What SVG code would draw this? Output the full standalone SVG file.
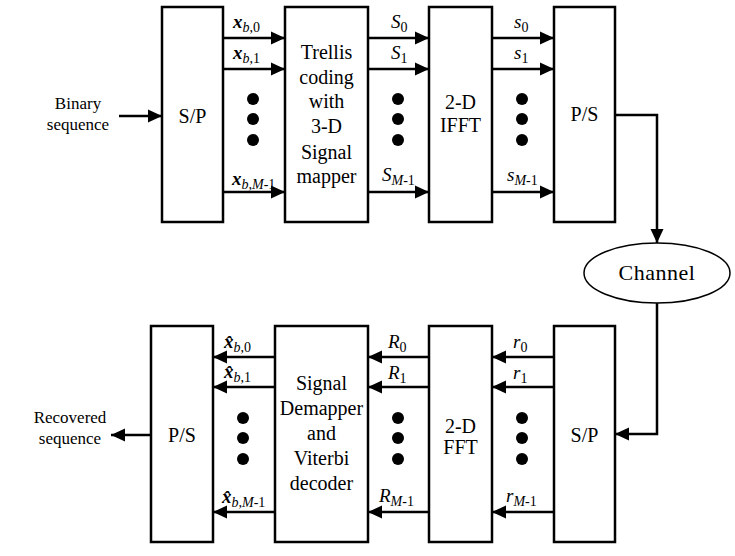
<svg xmlns="http://www.w3.org/2000/svg" width="735" height="556" viewBox="0 0 735 556">
<style>
.box{fill:#fff;stroke:#000;stroke-width:2.5}
.ln{fill:none;stroke:#000;stroke-width:2.5}
text{font-family:"Liberation Serif","DejaVu Serif",serif}
.t{font-size:20px;fill:#000;text-anchor:middle}
.s{font-size:17px;fill:#000;text-anchor:middle}
.lb{font-size:19px;fill:#000}
.sub{font-size:14px;font-style:italic}
.sn{font-size:14px;font-style:normal;font-weight:normal}
.bx{font-weight:bold;font-style:italic}
.it{font-style:italic}
.dot{fill:#000}
</style>
<defs>
<marker id="ah" markerUnits="userSpaceOnUse" markerWidth="14" markerHeight="14" viewBox="0 0 14 14" refX="14" refY="7" orient="auto">
<path d="M0,0.5 L14,7 L0,13.5 Z" fill="#000"/>
</marker>
</defs>
<rect width="735" height="556" fill="#fff"/>

<g id="connectors">
<line class="ln" x1="119" y1="116" x2="162" y2="116" marker-end="url(#ah)"/>
<line class="ln" x1="223" y1="38" x2="285" y2="38" marker-end="url(#ah)"/>
<line class="ln" x1="223" y1="69" x2="285" y2="69" marker-end="url(#ah)"/>
<line class="ln" x1="223" y1="192" x2="285" y2="192" marker-end="url(#ah)"/>
<line class="ln" x1="368" y1="38" x2="429" y2="38" marker-end="url(#ah)"/>
<line class="ln" x1="368" y1="69" x2="429" y2="69" marker-end="url(#ah)"/>
<line class="ln" x1="368" y1="192" x2="429" y2="192" marker-end="url(#ah)"/>
<line class="ln" x1="492" y1="38" x2="554" y2="38" marker-end="url(#ah)"/>
<line class="ln" x1="492" y1="69" x2="554" y2="69" marker-end="url(#ah)"/>
<line class="ln" x1="492" y1="192" x2="554" y2="192" marker-end="url(#ah)"/>
<polyline class="ln" points="615,115 657,115 657,243" marker-end="url(#ah)"/>
<polyline class="ln" points="657,303 657,434 615,434" marker-end="url(#ah)"/>
<line class="ln" x1="554" y1="357" x2="492" y2="357" marker-end="url(#ah)"/>
<line class="ln" x1="554" y1="387" x2="492" y2="387" marker-end="url(#ah)"/>
<line class="ln" x1="554" y1="512" x2="492" y2="512" marker-end="url(#ah)"/>
<line class="ln" x1="429" y1="357" x2="368" y2="357" marker-end="url(#ah)"/>
<line class="ln" x1="429" y1="387" x2="368" y2="387" marker-end="url(#ah)"/>
<line class="ln" x1="429" y1="512" x2="368" y2="512" marker-end="url(#ah)"/>
<line class="ln" x1="275" y1="357" x2="213" y2="357" marker-end="url(#ah)"/>
<line class="ln" x1="275" y1="387" x2="213" y2="387" marker-end="url(#ah)"/>
<line class="ln" x1="275" y1="512" x2="213" y2="512" marker-end="url(#ah)"/>
<line class="ln" x1="151" y1="435" x2="111" y2="435" marker-end="url(#ah)"/>
</g>

<g id="input-label">
<text class="s" x="78" y="109">Binary</text>
<text class="s" x="78" y="130">sequence</text>
</g>

<g id="sp-top">
<rect class="box" x="162" y="7" width="61" height="215"/>
<text class="t" x="192.5" y="123">S/P</text>
</g>

<g id="trellis">
<rect class="box" x="285" y="7" width="83" height="215"/>
<text class="t" x="326.5" y="59">Trellis</text>
<text class="t" x="326.5" y="84">coding</text>
<text class="t" x="326.5" y="108">with</text>
<text class="t" x="326.5" y="133">3-D</text>
<text class="t" x="326.5" y="159">Signal</text>
<text class="t" x="326.5" y="183">mapper</text>
</g>

<g id="ifft">
<rect class="box" x="429" y="7" width="63" height="215"/>
<text class="t" x="460.5" y="109">2-D</text>
<text class="t" x="460.5" y="132">IFFT</text>
</g>

<g id="ps-top">
<rect class="box" x="554" y="7" width="61" height="215"/>
<text class="t" x="584.5" y="121">P/S</text>
</g>

<g id="channel">
<ellipse cx="657" cy="273" rx="73" ry="30" fill="#fff" stroke="#000" stroke-width="1.5"/>
<text class="t" x="657" y="280" style="font-size:22px;letter-spacing:0.5px">Channel</text>
</g>

<g id="sp-bottom">
<rect class="box" x="554" y="326" width="61" height="216"/>
<text class="t" x="584.5" y="442">S/P</text>
</g>

<g id="fft">
<rect class="box" x="429" y="326" width="63" height="216"/>
<text class="t" x="460.5" y="433">2-D</text>
<text class="t" x="460.5" y="454">FFT</text>
</g>

<g id="demapper">
<rect class="box" x="275" y="326" width="93" height="216"/>
<text class="t" x="321.5" y="390">Signal</text>
<text class="t" x="321.5" y="415">Demapper</text>
<text class="t" x="321.5" y="440">and</text>
<text class="t" x="321.5" y="465">Viterbi</text>
<text class="t" x="321.5" y="490">decoder</text>
</g>

<g id="ps-bottom">
<rect class="box" x="151" y="326" width="62" height="216"/>
<text class="t" x="182" y="442">P/S</text>
</g>

<g id="output-label">
<text class="s" x="70" y="423">Recovered</text>
<text class="s" x="70" y="444">sequence</text>
</g>

<g id="dots">
<circle class="dot" cx="253" cy="99" r="6"/><circle class="dot" cx="253" cy="119" r="6"/><circle class="dot" cx="253" cy="140" r="6"/>
<circle class="dot" cx="398" cy="99" r="6"/><circle class="dot" cx="398" cy="119" r="6"/><circle class="dot" cx="398" cy="140" r="6"/>
<circle class="dot" cx="522" cy="99" r="6"/><circle class="dot" cx="522" cy="119" r="6"/><circle class="dot" cx="522" cy="140" r="6"/>
<circle class="dot" cx="243" cy="418" r="6"/><circle class="dot" cx="243" cy="438" r="6"/><circle class="dot" cx="243" cy="459" r="6"/>
<circle class="dot" cx="398" cy="418" r="6"/><circle class="dot" cx="398" cy="438" r="6"/><circle class="dot" cx="398" cy="459" r="6"/>
<circle class="dot" cx="522" cy="418" r="6"/><circle class="dot" cx="522" cy="438" r="6"/><circle class="dot" cx="522" cy="459" r="6"/>
</g>

<g id="labels">
<text class="lb" x="233" y="28"><tspan class="bx">x</tspan><tspan class="sub" dy="4">b</tspan><tspan class="sn">,0</tspan></text>
<text class="lb" x="233" y="59"><tspan class="bx">x</tspan><tspan class="sub" dy="4">b</tspan><tspan class="sn">,1</tspan></text>
<text class="lb" x="232" y="185"><tspan class="bx">x</tspan><tspan class="sub" dy="4">b,M</tspan><tspan class="sn">-1</tspan></text>
<text class="lb" x="391" y="28"><tspan class="it">S</tspan><tspan class="sn" dy="4">0</tspan></text>
<text class="lb" x="391" y="59"><tspan class="it">S</tspan><tspan class="sn" dy="4">1</tspan></text>
<text class="lb" x="382" y="181"><tspan class="it">S</tspan><tspan class="sub" dy="4">M</tspan><tspan class="sn">-1</tspan></text>
<text class="lb" x="514" y="28"><tspan class="it">s</tspan><tspan class="sn" dy="4">0</tspan></text>
<text class="lb" x="514" y="59"><tspan class="it">s</tspan><tspan class="sn" dy="4">1</tspan></text>
<text class="lb" x="507" y="181"><tspan class="it">s</tspan><tspan class="sub" dy="4">M</tspan><tspan class="sn">-1</tspan></text>
<text class="lb" x="224" y="348"><tspan class="bx">x̂</tspan><tspan class="sub" dy="4">b</tspan><tspan class="sn">,0</tspan></text>
<text class="lb" x="224" y="378"><tspan class="bx">x̂</tspan><tspan class="sub" dy="4">b</tspan><tspan class="sn">,1</tspan></text>
<text class="lb" x="222" y="503"><tspan class="bx">x̂</tspan><tspan class="sub" dy="4">b,M</tspan><tspan class="sn">-1</tspan></text>
<text class="lb" x="388" y="348"><tspan class="it">R</tspan><tspan class="sn" dy="4">0</tspan></text>
<text class="lb" x="388" y="379"><tspan class="it">R</tspan><tspan class="sn" dy="4">1</tspan></text>
<text class="lb" x="379" y="502"><tspan class="it">R</tspan><tspan class="sub" dy="4">M</tspan><tspan class="sn">-1</tspan></text>
<text class="lb" x="513" y="348"><tspan class="it">r</tspan><tspan class="sn" dy="4">0</tspan></text>
<text class="lb" x="513" y="379"><tspan class="it">r</tspan><tspan class="sn" dy="4">1</tspan></text>
<text class="lb" x="506" y="502"><tspan class="it">r</tspan><tspan class="sub" dy="4">M</tspan><tspan class="sn">-1</tspan></text>
</g>
</svg>
